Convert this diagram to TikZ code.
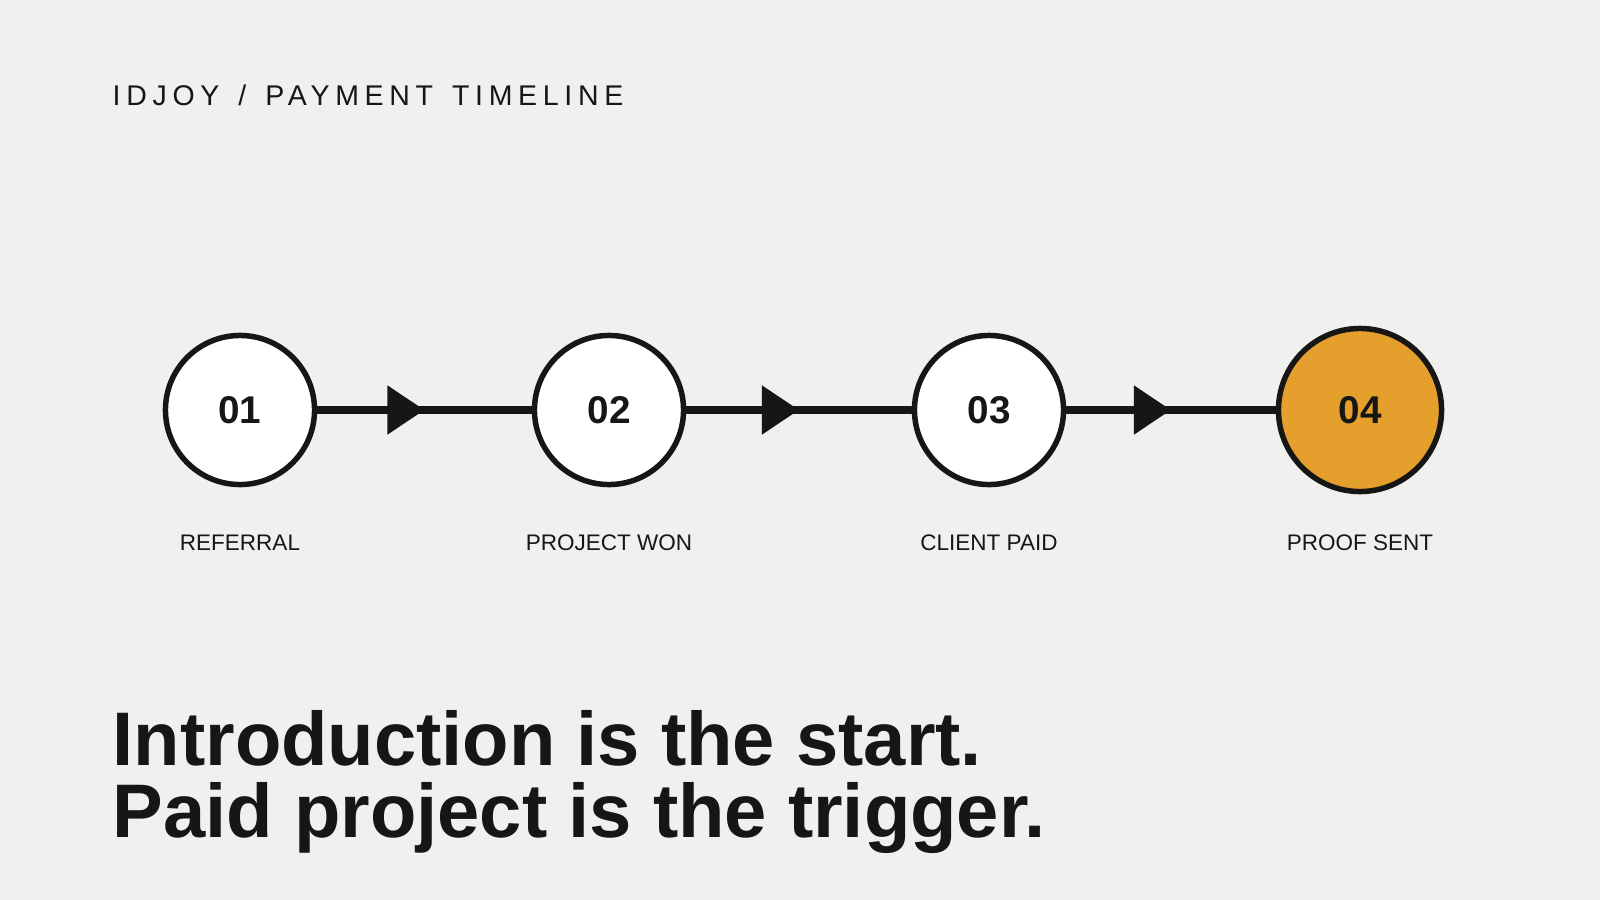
\documentclass[tikz,border=0pt]{standalone}
\usepackage{fontspec}
\setmainfont{Liberation Sans}
\newfontfamily\spacedfont[LetterSpace=20,WordSpace=1.4]{Liberation Sans}
\usetikzlibrary{arrows.meta,decorations.markings,positioning}
\definecolor{paper}{HTML}{F0F1EE}
\definecolor{ink}{HTML}{161714}
\definecolor{amber}{HTML}{E49F2D}

\begin{document}
\begin{tikzpicture}[x=0.01cm,y=-0.01cm,
  stage/.style={circle,draw=ink,line width=1.56pt,fill=white,minimum size=1.49cm,inner sep=0pt,
    text=ink,font=\fontsize{11pt}{13pt}\selectfont\bfseries},
  last/.style={stage,fill=amber,minimum size=1.63cm},
  caption/.style={anchor=base,inner sep=0pt,text=ink,font=\fontsize{6.4pt}{8pt}\selectfont},
  headline/.style={anchor=base west,inner sep=0pt,text=ink,font=\fontsize{21.6pt}{22pt}\selectfont\bfseries},
  link/.style={draw=ink,line width=2.27pt,postaction={decorate},
    decoration={markings,mark=at position 0.5 with {\arrow[ink]{Triangle[length=3.7mm,width=4.7mm]}}}}]
\fill[paper] (0,0) rectangle (1600,900);

\node[anchor=base west,inner sep=0pt,text=ink,font=\spacedfont\fontsize{8.1pt}{10pt}\selectfont] (title) at (112,105) {IDJOY / PAYMENT TIMELINE};

\node[stage] (s_1) at (240,410)  {01};
\node[stage] (s_2) at (609,410)  {02};
\node[stage] (s_3) at (989,410)  {03};
\node[last]  (s_4) at (1360,410) {04};

\node[caption] (l_1) at (240,550)  {REFERRAL};
\node[caption] (l_2) at (609,550)  {PROJECT WON};
\node[caption] (l_3) at (989,550)  {CLIENT PAID};
\node[caption] (l_4) at (1360,550) {PROOF SENT};

\path[link] (s_1) -- (s_2);
\path[link] (s_2) -- (s_3);
\path[link] (s_3) -- (s_4);

\node[headline] (line_1) at (112,765) {Introduction is the start.};
\node[headline] (line_2) at ([yshift=-0.72cm]line_1.base west) {Paid project is the trigger.};
\end{tikzpicture}
\end{document}
